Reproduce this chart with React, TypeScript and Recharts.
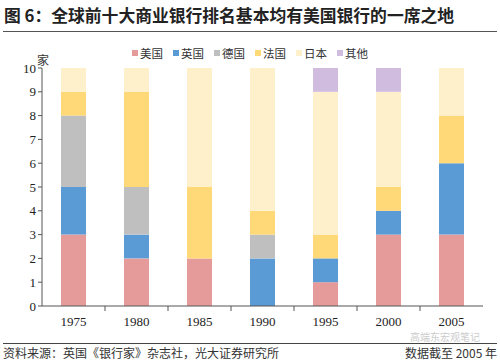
import React from "react";
import { BarChart, Bar, XAxis, YAxis } from "recharts";

const years = ["1975", "1980", "1985", "1990", "1995", "2000", "2005"];
const usa = [3, 2, 2, 0, 1, 3, 3];
const uk = [2, 1, 0, 2, 1, 1, 3];
const germany = [3, 2, 0, 1, 0, 0, 0];
const france = [1, 4, 3, 1, 1, 1, 2];
const japan = [1, 1, 5, 6, 6, 4, 2];
const other = [0, 0, 0, 0, 1, 1, 0];
const yTicks = [0, 1, 2, 3, 4, 5, 6, 7, 8, 9, 10];

const series = [
  { key: "美国", values: usa, color: "#E69B9B" },
  { key: "英国", values: uk, color: "#5B9BD5" },
  { key: "德国", values: germany, color: "#BFBFBF" },
  { key: "法国", values: france, color: "#FFD978" },
  { key: "日本", values: japan, color: "#FFF0CC" },
  { key: "其他", values: other, color: "#CFBCDF" },
];

const data = years.map((y, i) => {
  const row: Record<string, any> = { year: y };
  series.forEach((s) => (row[s.key] = s.values[i]));
  return row;
});

const CJK = '"Noto Sans CJK SC", "Noto Sans", sans-serif';
const SERIF = '"Liberation Serif", "DejaVu Serif", serif';

const PLOT_LEFT = 42;
const PLOT_RIGHT = 483;
const BAND = (PLOT_RIGHT - PLOT_LEFT) / years.length;

const XTick = (props: any) => {
  const { x, y, payload, index } = props;
  return (
    <g>
      <text x={x} y={y + 12} textAnchor="middle" fontFamily={SERIF} fontSize={13} fill="#222">
        {payload.value}
      </text>
      {index < years.length - 1 && (
        <line x1={x + BAND / 2} x2={x + BAND / 2} y1={y - 8} y2={y - 3} stroke="#555" />
      )}
    </g>
  );
};

export default function App() {
  return (
    <div style={{ position: "absolute", left: 0, top: 0, width: 500, height: 363, background: "#fff", overflow: "hidden" }}>
      <div style={{ position: "absolute", left: 4, top: 4, fontFamily: CJK, fontWeight: 700, fontSize: 16.8, color: "#222", whiteSpace: "nowrap", lineHeight: "22px" }}>
        图 6：全球前十大商业银行排名基本均有美国银行的一席之地
      </div>
      <div style={{ position: "absolute", left: 3, top: 31, width: 494, height: 1, background: "#555" }} />
      <div style={{ position: "absolute", left: 37, top: 51, fontFamily: CJK, fontSize: 12, color: "#333" }}>家</div>
      <div style={{ position: "absolute", left: 0, top: 0 }}>
        <BarChart width={500} height={363} data={data} margin={{ top: 68, right: 17, bottom: 27, left: 0 }} barSize={25}>
          <XAxis dataKey="year" height={30} tickLine={false} axisLine={{ stroke: "#555" }} tick={<XTick />} interval={0} />
          <YAxis
            width={42}
            domain={[0, 10]}
            ticks={yTicks}
            interval={0}
            axisLine={{ stroke: "#555" }}
            tickLine={{ stroke: "#555" }}
            tickSize={4}
            tick={{ fontFamily: SERIF, fontSize: 13, fill: "#222" }}
          />
          {series.map((s) => (
            <Bar key={s.key} dataKey={s.key} stackId="a" fill={s.color} isAnimationActive={false} />
          ))}
        </BarChart>
      </div>
      <div style={{ position: "absolute", left: 0, top: 45, width: 500, display: "flex", justifyContent: "center", gap: 10, fontFamily: CJK, fontSize: 11.5, color: "#333", lineHeight: "16px" }}>
        {series.map((s) => (
          <div key={s.key} style={{ display: "flex", alignItems: "center" }}>
            <span style={{ width: 6, height: 6, background: s.color, display: "inline-block", marginRight: 2 }} />
            <span>{s.key}</span>
          </div>
        ))}
      </div>
      <div style={{ position: "absolute", left: 3, top: 343, width: 494, height: 1, background: "#444" }} />
      <div style={{ position: "absolute", left: 3, top: 344, fontFamily: CJK, fontSize: 12, color: "#333", whiteSpace: "nowrap" }}>
        资料来源：英国《银行家》杂志社，光大证券研究所
      </div>
      <div style={{ position: "absolute", right: 3, top: 344, fontFamily: CJK, fontSize: 12, color: "#333", whiteSpace: "nowrap" }}>
        数据截至 2005 年
      </div>
      <div style={{ position: "absolute", left: 410, top: 331, fontFamily: CJK, fontSize: 10, color: "#ccc", whiteSpace: "nowrap", lineHeight: "12px" }}>
        高端东宏观笔记
      </div>
    </div>
  );
}
